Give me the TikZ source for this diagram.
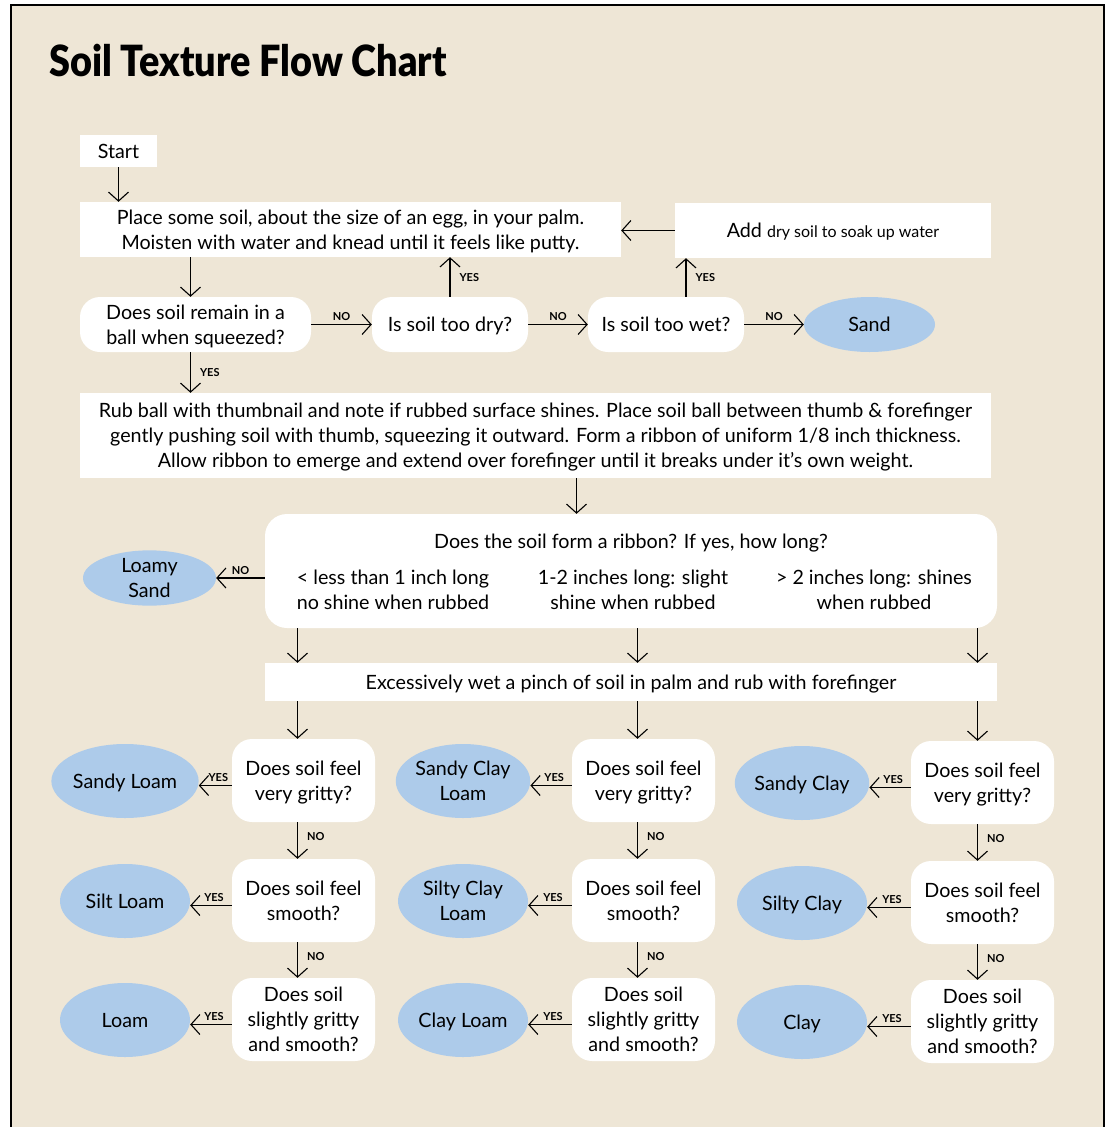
\documentclass[tikz,border=0pt]{standalone}
\usepackage{fontspec}
\setmainfont{Lato}
\newfontfamily\titlefont{Lato Black}[FakeStretch=0.88]
\usepackage{tikz}
\usetikzlibrary{arrows.meta,shapes.geometric}
\definecolor{paper}{HTML}{EEE6D6}
\definecolor{soilblue}{HTML}{ADCBEA}

\begin{document}
\begin{tikzpicture}[x=1pt,y=-1pt,
    every node/.style={font=\fontsize{19.7}{25}\selectfont,text depth=0pt},
    box/.style={fill=white,inner sep=0pt,align=center},
    ques/.style={fill=white,rounded corners=20pt,inner sep=0pt,align=center,minimum width=143pt,minimum height=83pt},
    soil/.style={ellipse,fill=soilblue,inner sep=0pt,align=center,minimum width=130pt,minimum height=74pt},
    arr/.style={-{Straight Barb[length=9pt,width=20pt]},line width=1.1pt},
    lab/.style={font=\bfseries\fontsize{11}{12}\selectfont,inner sep=3pt},
    labr/.style={lab,right,xshift=6pt}]
    \useasboundingbox (0,0) rectangle (1108,1127);
    \draw[fill=paper,line width=1.5pt] (11,1140) rectangle (1104,5);

    \node[anchor=base west,inner sep=0pt,font=\titlefont\fontsize{43}{48}\selectfont] (title) at (49,76) {Soil Texture Flow Chart};

    \node[box,minimum width=77pt,minimum height=32pt] (start) at (118.5,151) {Start};
    \node[box,minimum width=541pt,minimum height=55pt] (place) at (350.5,229.5) {Place some soil, about the size of an egg, in your palm.\\Moisten with water and knead until it feels like putty.};
    \node[box,minimum width=316pt,minimum height=55pt] (adddry) at (833,230.5) {Add {\fontsize{16}{20}\selectfont dry soil to soak up water}};
    \node[ques,minimum width=231pt,minimum height=55pt] (ball) at (195.5,324.5) {Does soil remain in a\\ball when squeezed?};
    \node[ques,minimum width=156pt,minimum height=55pt] (dry) at (450,324.5) {Is soil too dry?};
    \node[ques,minimum width=156pt,minimum height=55pt] (wet) at (666,324.5) {Is soil too wet?};
    \node[soil,minimum width=131pt,minimum height=55pt] (sand) at (869.5,324.5) {Sand};
    \node[box,minimum width=911pt,minimum height=85pt] (rub) at (535.5,435.5) {Rub ball with thumbnail and note if rubbed surface shines. Place soil ball between thumb \& forefinger\\gently pushing soil with thumb, squeezing it outward. Form a ribbon of uniform 1/8 inch thickness.\\Allow ribbon to emerge and extend over forefinger until it breaks under it's own weight.};
    \node[ques,rounded corners=22pt,minimum width=732pt,minimum height=114pt] (ribbon) at (631,571) {};
    \node[align=center] (ribq) at (631,541) {Does the soil form a ribbon? If yes, how long?};
    \node[align=center] (riba) at (393,590) {< less than 1 inch long\\no shine when rubbed};
    \node[align=center] (ribb) at (633,590) {1-2 inches long: slight\\shine when rubbed};
    \node[align=center] (ribc) at (874,590) {> 2 inches long: shines\\when rubbed};
    \node[soil,minimum width=133pt,minimum height=51pt] (loamysand) at (149.5,578) {Loamy\\Sand};
    \node[box,minimum width=732pt,minimum height=38pt] (excess) at (631,682) {Excessively wet a pinch of soil in palm and rub with forefinger};

    \node[ques] (q11) at (303.5,780.5) {Does soil feel\\very gritty?};
    \node[ques] (q12) at (303.5,900.5) {Does soil feel\\smooth?};
    \node[ques] (q13) at (303.5,1019.5) {Does soil\\slightly gritty\\and smooth?};
    \node[ques] (q21) at (643.5,780.5) {Does soil feel\\very gritty?};
    \node[ques] (q22) at (643.5,900.5) {Does soil feel\\smooth?};
    \node[ques] (q23) at (643.5,1019.5) {Does soil\\slightly gritty\\and smooth?};
    \node[ques] (q31) at (982.5,782.5) {Does soil feel\\very gritty?};
    \node[ques] (q32) at (982.5,902.5) {Does soil feel\\smooth?};
    \node[ques] (q33) at (982.5,1021.5) {Does soil\\slightly gritty\\and smooth?};

    \node[soil] (e11) at (125,781) {Sandy Loam};
    \node[soil] (e12) at (125,901) {Silt Loam};
    \node[soil] (e13) at (125,1020) {Loam};
    \node[soil] (e21) at (463,781) {Sandy Clay\\Loam};
    \node[soil] (e22) at (463,901) {Silty Clay\\Loam};
    \node[soil] (e23) at (463,1020) {Clay Loam};
    \node[soil] (e31) at (802,783) {Sandy Clay};
    \node[soil] (e32) at (802,903) {Silty Clay};
    \node[soil] (e33) at (802,1022) {Clay};

    \draw[arr] (start) -- (start |- place.north);
    \draw[arr] ([xshift=-5pt]ball.north |- place.south) -- ([xshift=-5pt]ball.north);
    \draw[arr] (ball) -- (dry) node[lab,midway,above] (n1) {NO};
    \draw[arr] (dry) -- (dry |- place.south) node[labr,midway] (y1) {YES};
    \draw[arr] (dry) -- (wet) node[lab,midway,above] (n2) {NO};
    \draw[arr] ([xshift=20pt]wet.north) -- ([xshift=20pt]wet.north |- adddry.south) node[labr,midway] (y2) {YES};
    \draw[arr] (adddry.west) -- (adddry.west -| place.east);
    \draw[arr] (wet) -- (sand) node[lab,midway,above] (n3) {NO};
    \draw[arr] ([xshift=-5pt]ball.south) -- ([xshift=-5pt]ball.south |- rub.north) node[labr,midway] (y3) {YES};
    \draw[arr] ([xshift=41pt]rub.south) -- ([xshift=41pt]rub.south |- ribbon.north);
    \draw[arr] (ribbon.west |- loamysand) -- (loamysand) node[lab,midway,above] (n4) {NO};

    \draw[arr] ([xshift=-6pt]q11.north |- ribbon.south) -- ([xshift=-6pt]q11.north |- excess.north);
    \draw[arr] ([xshift=-6pt]q21.north |- ribbon.south) -- ([xshift=-6pt]q21.north |- excess.north);
    \draw[arr] ([xshift=-5pt]q31.north |- ribbon.south) -- ([xshift=-5pt]q31.north |- excess.north);
    \draw[arr] ([xshift=-6pt]q11.north |- excess.south) -- ([xshift=-6pt]q11.north);
    \draw[arr] ([xshift=-6pt]q21.north |- excess.south) -- ([xshift=-6pt]q21.north);
    \draw[arr] ([xshift=-5pt]q31.north |- excess.south) -- ([xshift=-5pt]q31.north);

    \draw[arr] ([xshift=-6pt]q11.south) -- ([xshift=-6pt]q12.north) node[labr,midway,yshift=4pt] (n11) {NO};
    \draw[arr] ([xshift=-6pt]q12.south) -- ([xshift=-6pt]q13.north) node[labr,midway,yshift=4pt] (n12) {NO};
    \draw[arr] ([xshift=-6pt]q21.south) -- ([xshift=-6pt]q22.north) node[labr,midway,yshift=4pt] (n21) {NO};
    \draw[arr] ([xshift=-6pt]q22.south) -- ([xshift=-6pt]q23.north) node[labr,midway,yshift=4pt] (n22) {NO};
    \draw[arr] ([xshift=-5pt]q31.south) -- ([xshift=-5pt]q32.north) node[labr,midway,yshift=4pt] (n31) {NO};
    \draw[arr] ([xshift=-5pt]q32.south) -- ([xshift=-5pt]q33.north) node[labr,midway,yshift=4pt] (n32) {NO};

    \draw[arr] ([yshift=-5pt]q11.west) -- ([yshift=-5pt]q11.west -| e11.east) node[lab,midway,above,xshift=3pt] (y11) {YES};
    \draw[arr] ([yshift=-5pt]q12.west) -- ([yshift=-5pt]q12.west -| e12.east) node[lab,midway,above,xshift=3pt] (y12) {YES};
    \draw[arr] ([yshift=-5pt]q13.west) -- ([yshift=-5pt]q13.west -| e13.east) node[lab,midway,above,xshift=3pt] (y13) {YES};
    \draw[arr] ([yshift=-5pt]q21.west) -- ([yshift=-5pt]q21.west -| e21.east) node[lab,midway,above,xshift=3pt] (y21) {YES};
    \draw[arr] ([yshift=-5pt]q22.west) -- ([yshift=-5pt]q22.west -| e22.east) node[lab,midway,above,xshift=3pt] (y22) {YES};
    \draw[arr] ([yshift=-5pt]q23.west) -- ([yshift=-5pt]q23.west -| e23.east) node[lab,midway,above,xshift=3pt] (y23) {YES};
    \draw[arr] ([yshift=-5pt]q31.west) -- ([yshift=-5pt]q31.west -| e31.east) node[lab,midway,above,xshift=3pt] (y31) {YES};
    \draw[arr] ([yshift=-5pt]q32.west) -- ([yshift=-5pt]q32.west -| e32.east) node[lab,midway,above,xshift=3pt] (y32) {YES};
    \draw[arr] ([yshift=-5pt]q33.west) -- ([yshift=-5pt]q33.west -| e33.east) node[lab,midway,above,xshift=3pt] (y33) {YES};
\end{tikzpicture}
\end{document}
